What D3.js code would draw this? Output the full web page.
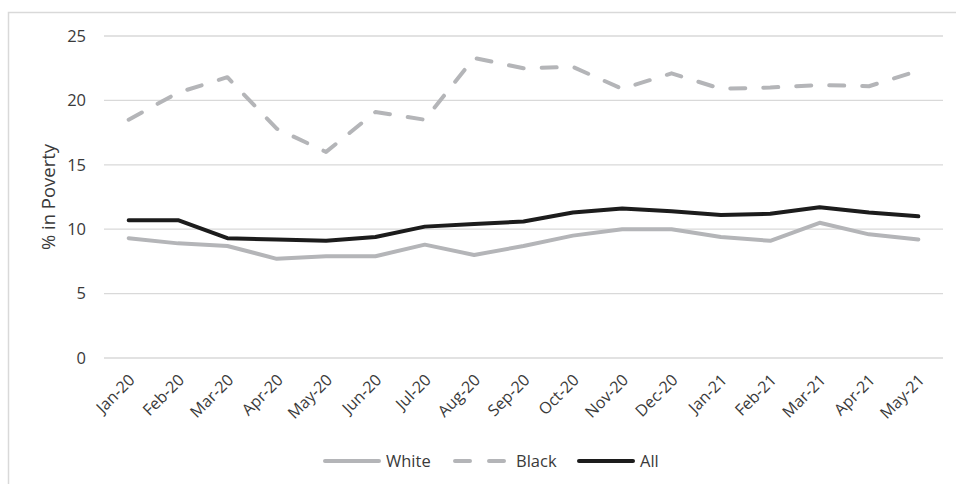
<!DOCTYPE html>
<html>
<head>
<meta charset="utf-8">
<script src="https://cdn.jsdelivr.net/npm/d3@7"></script>
<style>
  body { margin: 0; background: #fff; }
  text { font-family: "Open Sans", "Liberation Sans", sans-serif; fill: #3a3a3a; }
</style>
</head>
<body>
<div id="chart"></div>
<script>
const months = ['Jan-20','Feb-20','Mar-20','Apr-20','May-20','Jun-20','Jul-20','Aug-20','Sep-20',
  'Oct-20','Nov-20','Dec-20','Jan-21','Feb-21','Mar-21','Apr-21','May-21'];
const white = [9.3, 8.9, 8.7, 7.7, 7.9, 7.9, 8.8, 8.0, 8.7, 9.5, 10.0, 10.0, 9.4, 9.1, 10.5, 9.6, 9.2];
const black = [18.5, 20.6, 21.8, 17.8, 16.0, 19.1, 18.5, 23.3, 22.5, 22.6, 20.9, 22.1, 20.9, 21.0, 21.2, 21.1, 22.3];
const all = [10.7, 10.7, 9.3, 9.2, 9.1, 9.4, 10.2, 10.4, 10.6, 11.3, 11.6, 11.4, 11.1, 11.2, 11.7, 11.3, 11.0];
const yTicks = [0, 5, 10, 15, 20, 25];

const series = [
  {name: 'White', values: white, color: '#b4b5b8', dash: null},
  {name: 'Black', values: black, color: '#b4b5b8', dash: '15,18'},
  {name: 'All', values: all, color: '#1c1c1c', dash: null}
];

const width = 956, height = 484;
const margin = {top: 36, right: 13, bottom: 126, left: 104};

const svg = d3.select('#chart').append('svg')
  .attr('width', width)
  .attr('height', height);

// outer chart frame (only top and left visible in the crop)
svg.append('path')
  .attr('d', `M8.5,${height} V12.5 H${width}`)
  .attr('fill', 'none')
  .attr('stroke', '#d9d9d9')
  .attr('stroke-width', 1.5);

const x = d3.scaleBand()
  .domain(months)
  .range([margin.left, width - margin.right]);

const y = d3.scaleLinear()
  .domain([0, 25])
  .range([height - margin.bottom, margin.top]);

// gridlines
svg.append('g')
  .selectAll('line')
  .data(yTicks)
  .join('line')
  .attr('x1', margin.left)
  .attr('x2', width - margin.right)
  .attr('y1', d => y(d))
  .attr('y2', d => y(d))
  .attr('stroke', '#d9d9d9')
  .attr('stroke-width', 1.3);

const yAxis = svg.append('g')
  .attr('transform', `translate(${margin.left},0)`)
  .call(d3.axisLeft(y).tickValues(yTicks).tickSize(0).tickPadding(18));
yAxis.select('.domain').remove();
yAxis.selectAll('text')
  .style('font-size', '16.5px')
  .attr('fill', '#3a3a3a');

const xAxis = svg.append('g')
  .attr('transform', `translate(0,${y(0)})`)
  .call(d3.axisBottom(x).tickSize(0));
xAxis.select('.domain').remove();
xAxis.selectAll('text')
  .style('font-size', '16px')
  .attr('fill', '#3a3a3a')
  .attr('text-anchor', 'end')
  .attr('dy', 0)
  .attr('transform', 'translate(5,21) rotate(-45)');

svg.append('text')
  .attr('transform', `translate(55,${(y(0) + y(25)) / 2}) rotate(-90)`)
  .attr('text-anchor', 'middle')
  .style('font-size', '18.5px')
  .text('% in Poverty');

const line = d3.line()
  .x((d, i) => x(months[i]) + x.bandwidth() / 2)
  .y(d => y(d));

svg.append('g')
  .selectAll('path')
  .data(series)
  .join('path')
  .attr('d', d => line(d.values))
  .attr('fill', 'none')
  .attr('stroke', d => d.color)
  .attr('stroke-width', 4)
  .attr('stroke-linejoin', 'round')
  .attr('stroke-linecap', 'round')
  .attr('stroke-dasharray', d => d.dash);

// legend
const legendX = [325, 455, 579];
const legend = svg.append('g')
  .selectAll('g')
  .data(series)
  .join('g')
  .attr('transform', (d, i) => `translate(${legendX[i]},461)`);

legend.append('line')
  .attr('x1', 0)
  .attr('x2', 54)
  .attr('stroke', d => d.color)
  .attr('stroke-width', 4)
  .attr('stroke-linecap', 'round')
  .attr('stroke-dasharray', d => d.dash ? '15,19' : null);

legend.append('text')
  .attr('x', 61)
  .attr('dy', '0.35em')
  .style('font-size', '16.5px')
  .attr('fill', '#3a3a3a')
  .text(d => d.name);
</script>
</body>
</html>
